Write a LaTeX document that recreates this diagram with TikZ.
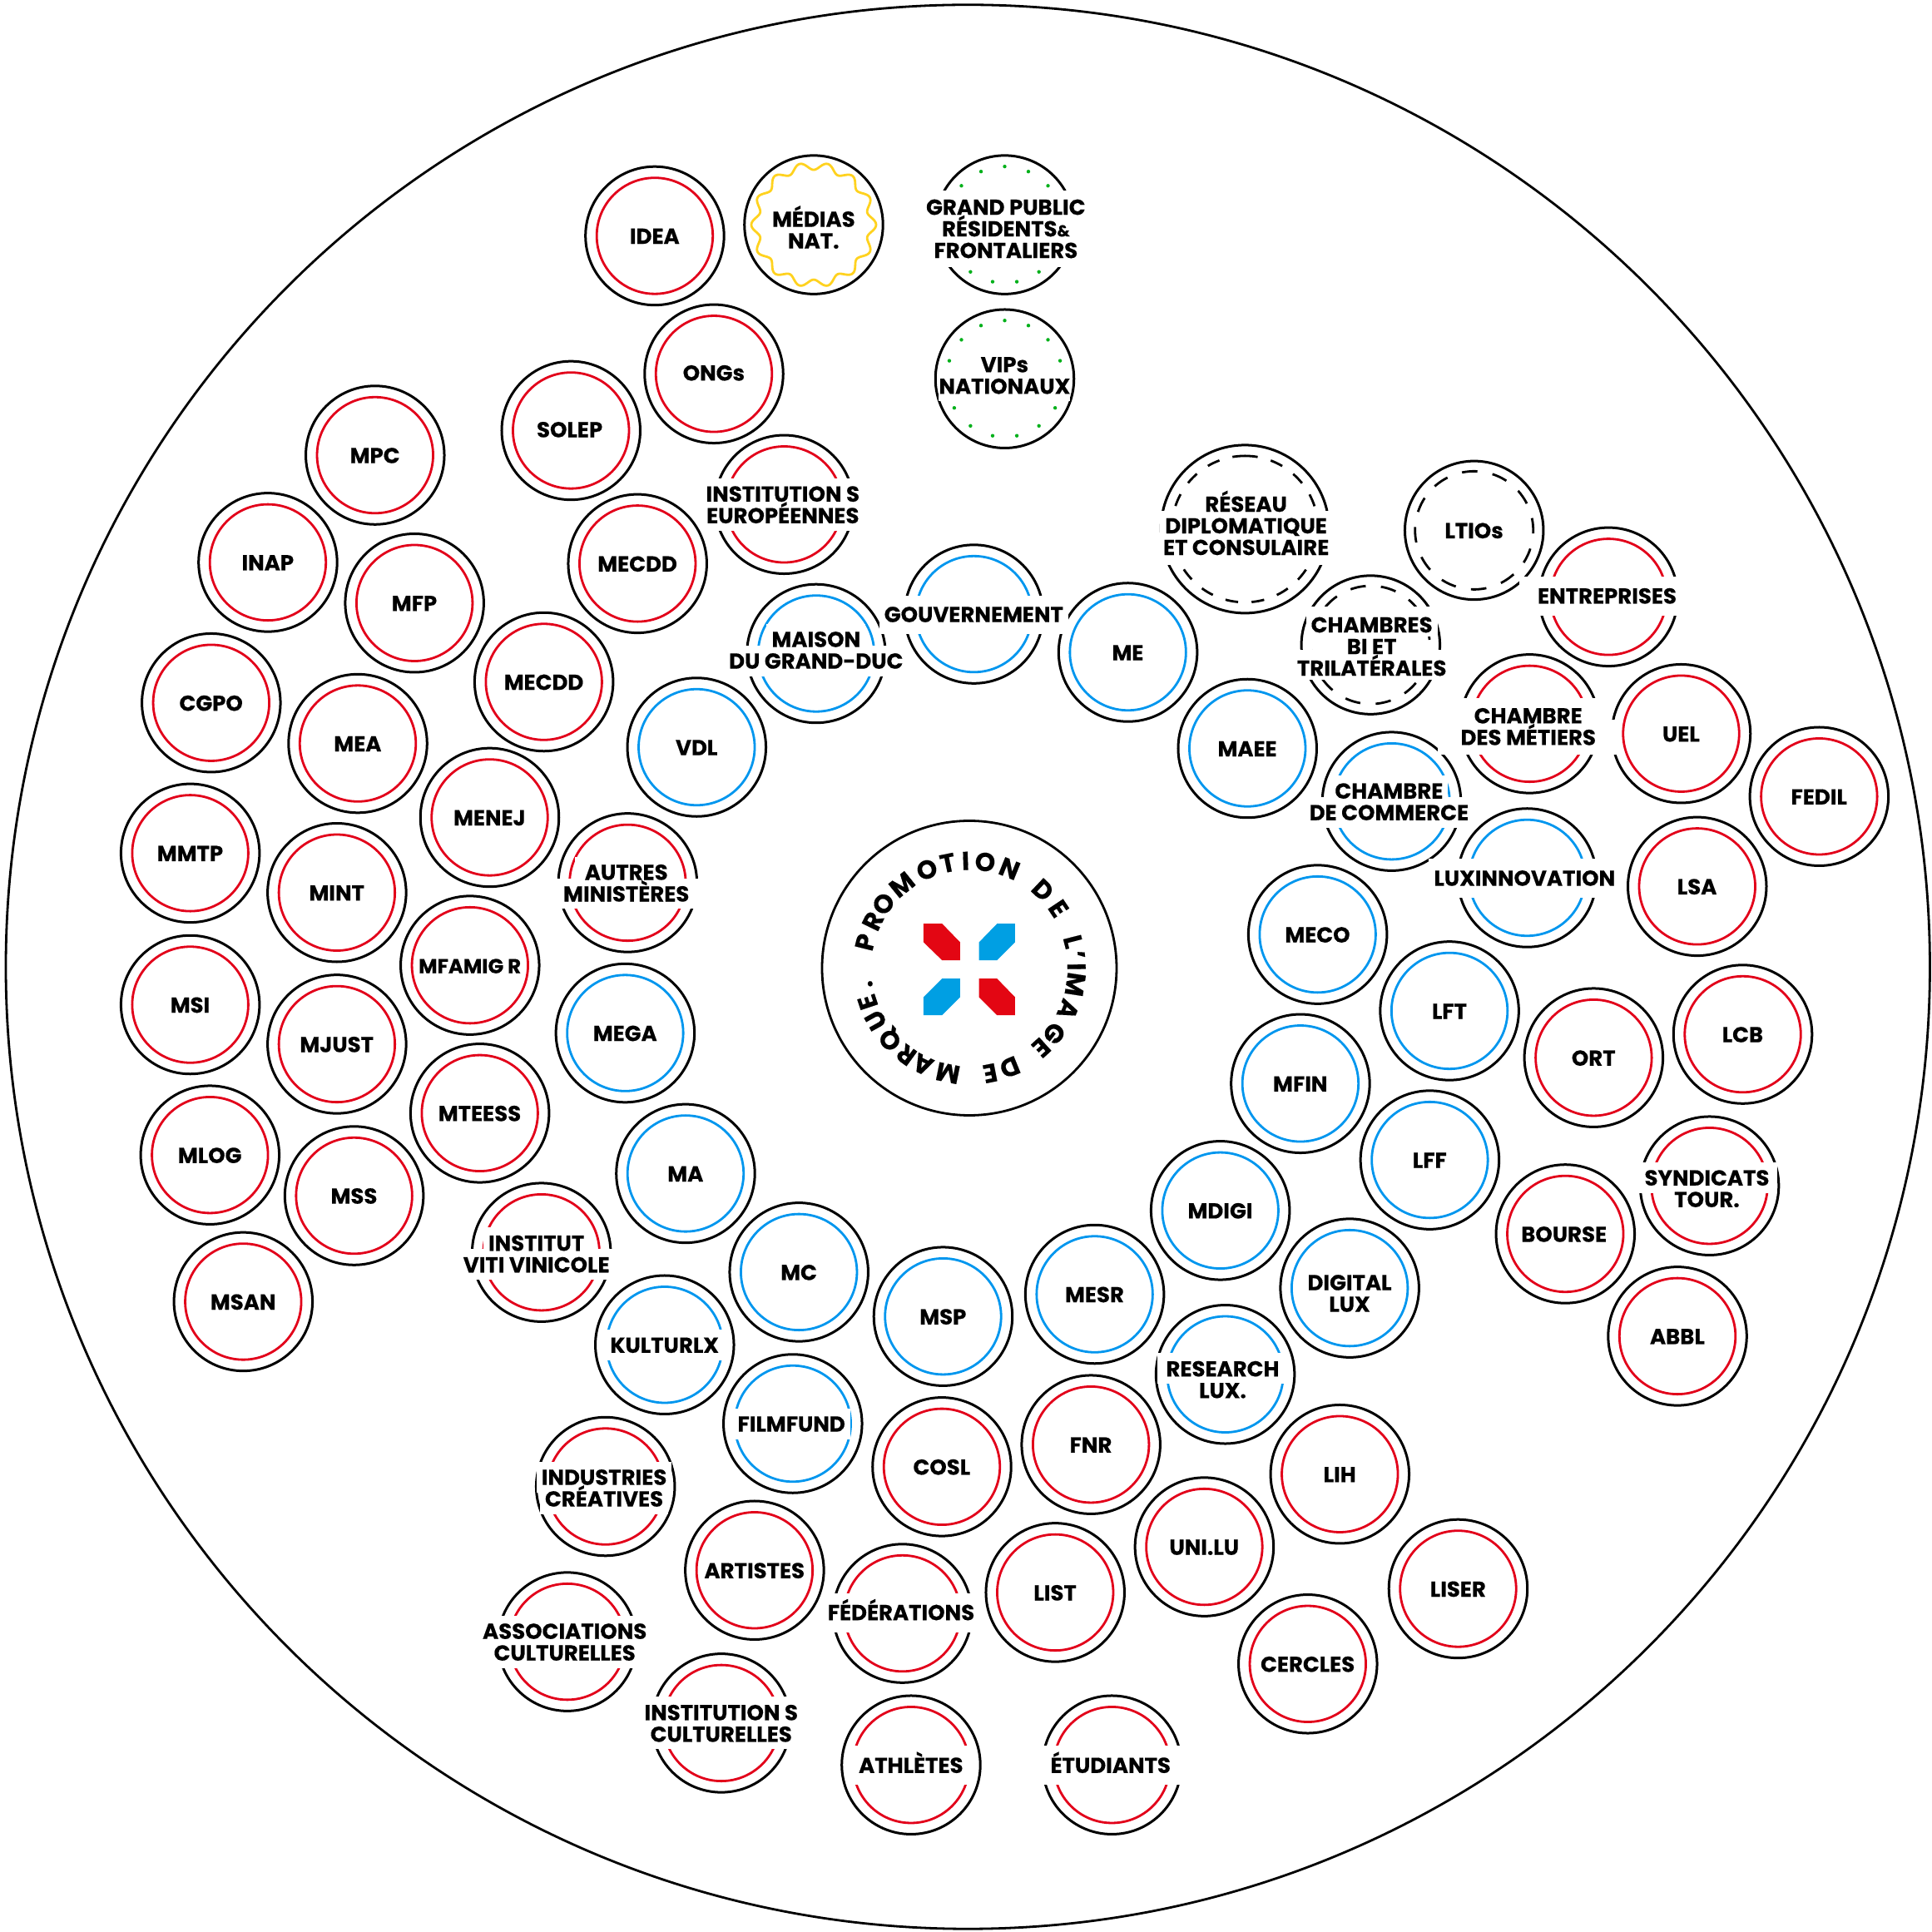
\documentclass[tikz,border=0pt]{standalone}
\usepackage{fontspec}
\setmainfont{Poppins}[BoldFont={Poppins Bold}]
\usetikzlibrary{calc}
\definecolor{lred}{HTML}{E2001A}
\definecolor{lblue}{HTML}{0096EE}
\definecolor{lyel}{HTML}{FFD21F}
\definecolor{lgreen}{HTML}{00B01A}
\definecolor{mred}{HTML}{E30613}
\definecolor{mblue}{HTML}{009FE3}
\pgfdeclarelayer{rings}\pgfdeclarelayer{masks}\pgfsetlayers{rings,masks,main}
\newcommand\lblfont{\fontsize{26}{26}\selectfont\bfseries\addfontfeature{FakeBold=0.4}}
\tikzset{
 outerring/.style={circle,draw=black,line width=3pt,minimum size=166.5pt,inner sep=0pt,outer sep=0pt},
 innerring/.style={circle,line width=2.8pt,minimum size=139.5pt,inner sep=0pt,outer sep=0pt},
 lbl/.style={inner sep=0pt,outer sep=0pt,text height=18pt,text depth=0pt,font=\lblfont},
 dashring/.style={line width=2.8pt,draw=black},
 arcletter/.style={inner sep=0pt,outer sep=0pt,text height=21pt,text depth=0pt,font=\fontsize{31}{31}\selectfont\bfseries\addfontfeature{FakeBold=0.4}},
}
\newcommand\ringred[1]{\node[innerring,draw=lred] (r#1) at (c#1.center) {};}
\newcommand\ringblue[1]{\node[innerring,draw=lblue] (r#1) at (c#1.center) {};}
\newcommand\ringyel[1]{\begin{scope}[shift={(c#1.center)},x=1pt,y=1pt]\draw[lyel,line width=2.8pt,line join=round] plot[domain=0:360,samples=281,variable=\t] ({(70.5-4.5*cos(14*\t))*sin(\t)},{(70.5-4.5*cos(14*\t))*cos(\t)}) -- cycle;\end{scope}}
\newcommand\ringgreen[1]{\foreach \a in {0,24,...,336}{\fill[lgreen] (c#1.center) ++(90-\a:70pt) circle (2.2pt);}}
\newcommand\ringdashA[1]{\draw[dashring,dash pattern=on 18.6pt off 18.6pt] (c#1.center) ++(72:71pt) arc[start angle=72,delta angle=-360,radius=71pt];}
\newcommand\ringdashB[1]{\draw[dashring,dash pattern=on 18.6pt off 18.6pt] (c#1.center) ++(80:71pt) arc[start angle=80,delta angle=-360,radius=71pt];}
% mask margins: side, above, below
\newcommand\mk[3]{\def\mx{#1}\def\mt{#2}\def\mb{#3}}
\mk{6}{10}{9}
% id, cx, cy, kind, tx, ty, lines
\newcommand\badge[7]{%
 \begin{pgfonlayer}{rings}
 \node[outerring] (c#1) at ($(#2,#3)+(0.4,0.4)$) {};
 \csname ring#4\endcsname{#1}
 \end{pgfonlayer}
 \tlines{#1}{#5}{#6}{#7}\mk{6}{10}{9}}
\newcommand\tlines[4]{%
 \foreach \ln [count=\k] in {#4} {\global\let\nlines\k}
 \foreach \ln [count=\i] in {#4} {
  \pgfmathsetmacro\dy{(\nlines+1)/2-\i}
  \node[lbl,yshift=\dy*26pt-1.2pt] (t#1-\i) at ($(#2,#3)+(0.3,0)$) {\ln};
  \begin{pgfonlayer}{masks}
  \fill[white] ([xshift=-\mx pt,yshift=-\mb pt]t#1-\i.south west) rectangle ([xshift=\mx pt,yshift=\mt pt]t#1-\i.north east);
  \end{pgfonlayer}
 }}
\begin{document}
\begin{tikzpicture}[x=1.4809pt,y=-1.4809pt]
\useasboundingbox (0,0) rectangle (1568,1568);
\node[circle,draw=black,line width=2.8pt,minimum size=2312.5pt,inner sep=0pt,outer sep=0pt] (big) at (1163.25pt,-1162pt) {};
% centre
\node[circle,draw=black,line width=2.8pt,minimum size=354pt,inner sep=0pt,outer sep=0pt] (centre) at (1165pt,-1163.5pt) {};
\foreach \a/\ch [count=\n] in {-76/P,-64/R,-53.2/O,-38.9/M,-23.3/O,-11.6/T,-2/I,8.5/O,22/N,43.3/D,56.3/E,75.7/L,83/’,89.3/I,98.8/M,112.8/A,127.6/G,137.9/E,157.8/D,168.8/E,191.5/M,205.7/A,216/R,227.8/Q,240.8/U,251.5/E,261/.}
 \node[arcletter,rotate=-\a] (arc\n) at ($(centre.center)+(90-\a:128.5pt)$) {\ch};
\begin{scope}[shift={(centre.center)},x=0.3333pt,y=-0.3333pt,shift={(-643,-640)}]
\fill[mred] (478,480)--(545,480)--(610,547)--(610,612)--(545,612)--(478,547)--cycle;
\fill[mblue] (743,480)--(808,480)--(808,547)--(743,612)--(678,612)--(678,547)--cycle;
\fill[mblue] (545,678)--(610,678)--(610,745)--(545,810)--(478,810)--(478,745)--cycle;
\fill[mred] (678,678)--(743,678)--(808,745)--(808,810)--(743,810)--(678,745)--cycle;
\end{scope}
% red
\badge{idea}{531}{191}{red}{531}{191}{IDEA}
\badge{ongs}{579}{303}{red}{579}{302}{ONGs}
\badge{solep}{463}{349}{red}{462}{348}{SOLEP}
\badge{insteu}{636}{409}{red}{635}{409}{INSTITUTION S,EUROPÉENNES}
\badge{mecdda}{517}{457}{red}{517}{457}{MECDD}
\badge{mecddb}{441}{553}{red}{441}{553}{MECDD}
\badge{mpc}{304}{369}{red}{304}{369}{MPC}
\badge{inap}{217}{456}{red}{217}{456}{INAP}
\badge{mfp}{336}{489}{red}{336}{489}{MFP}
\badge{cgpo}{171}{570}{red}{171}{570}{CGPO}
\badge{mea}{290}{603}{red}{290}{603}{MEA}
\badge{menej}{397}{663}{red}{397}{663}{MENEJ}
\badge{mmtp}{154}{692}{red}{154}{692}{MMTP}
\badge{mint}{273}{724}{red}{273}{724}{MINT}
\mk{12}{10}{8}\badge{autres}{509}{716}{red}{508}{716}{AUTRES,MINISTÈRES}
\mk{0}{0}{0}\badge{mfamigr}{381}{783}{red}{381}{783}{\fontsize{24.4}{26}\selectfont MFAMIG R}
\badge{msi}{154}{815}{red}{154}{815}{MSI}
\badge{mjust}{273}{847}{red}{273}{847}{MJUST}
\badge{mteess}{389}{903}{red}{389}{903}{MTEESS}
\badge{mlog}{170}{937}{red}{170}{937}{MLOG}
\badge{mss}{287}{970}{red}{287}{970}{MSS}
\badge{msan}{197}{1056}{red}{197}{1056}{MSAN}
\badge{viti}{439}{1016}{red}{435}{1017}{INSTITUT,VITI VINICOLE}
\badge{indus}{491}{1206}{red}{490}{1207}{INDUSTRIES,CRÉATIVES}
\mk{0}{0}{0}\badge{artistes}{612}{1274}{red}{612}{1274}{ARTISTES}
\badge{assoc}{460}{1332}{red}{458}{1332}{ASSOCIATIONS,CULTURELLES}
\badge{instcu}{585}{1398}{red}{585}{1398}{INSTITUTION S,CULTURELLES}
\mk{6}{14.5}{14.5}\badge{feder}{732}{1309}{red}{731}{1308}{FÉDÉRATIONS}
\badge{cosl}{764}{1190}{red}{764}{1190}{COSL}
\badge{fnr}{885}{1172}{red}{885}{1172}{FNR}
\badge{list}{856}{1292}{red}{856}{1292}{LIST}
\badge{unilu}{977}{1255}{red}{977}{1255}{UNI.LU}
\badge{lih}{1087}{1196}{red}{1087}{1196}{LIH}
\badge{liser}{1183}{1289}{red}{1183}{1289}{LISER}
\badge{cercles}{1061}{1350}{red}{1061}{1350}{CERCLES}
\mk{12}{14.5}{14.5}\badge{athletes}{739}{1432}{red}{739}{1432}{ATHLÈTES}
\mk{18}{14.5}{14.5}\badge{etud}{902}{1432}{red}{901}{1432}{ÉTUDIANTS}
\badge{uel}{1364}{595}{red}{1364}{595}{UEL}
\badge{fedil}{1476}{646}{red}{1476}{646}{FEDIL}
\badge{lsa}{1377}{719}{red}{1377}{719}{LSA}
\badge{lcb}{1414}{839}{red}{1414}{839}{LCB}
\badge{ort}{1293}{858}{red}{1293}{858}{ORT}
\mk{10}{10}{9}\badge{synd}{1387}{962}{red}{1385}{964}{SYNDICATS,TOUR.}
\badge{bourse}{1270}{1001}{red}{1269}{1001}{BOURSE}
\badge{abbl}{1361}{1084}{red}{1361}{1084}{ABBL}
% blue
\badge{maison}{662}{530}{blue}{662}{527}{MAISON,DU GRAND-DUC}
\mk{6}{14}{14}\badge{gouv}{790}{498}{blue}{790}{498}{GOUVERNEMENT}
\badge{me}{915}{529}{blue}{915}{529}{ME}
\badge{maee}{1012}{607}{blue}{1012}{607}{MAEE}
\badge{vdl}{565}{606}{blue}{565}{606}{VDL}
\badge{commerce}{1129}{650}{blue}{1127}{650}{CHAMBRE,DE COMMERCE}
\mk{6}{14.5}{14.5}\badge{luxinn}{1239}{712}{blue}{1237}{712}{LUXINNOVATION}
\badge{meco}{1069}{758}{blue}{1069}{758}{MECO}
\badge{lft}{1176}{820}{blue}{1176}{820}{LFT}
\badge{mfin}{1055}{879}{blue}{1055}{879}{MFIN}
\badge{lff}{1160}{941}{blue}{1160}{941}{LFF}
\badge{mega}{507}{838}{blue}{507}{838}{MEGA}
\badge{ma}{556}{952}{blue}{556}{952}{MA}
\badge{mdigi}{990}{982}{blue}{990}{982}{MDIGI}
\badge{mc}{648}{1032}{blue}{648}{1032}{MC}
\badge{kultur}{539}{1091}{blue}{539}{1091}{KULTURLX}
\badge{digital}{1095}{1045}{blue}{1095}{1049}{DIGITAL,LUX}
\badge{msp}{765}{1068}{blue}{765}{1068}{MSP}
\badge{mesr}{888}{1050}{blue}{888}{1050}{MESR}
\mk{10}{10}{9}\badge{research}{994}{1115}{blue}{992}{1119}{RESEARCH,LUX.}
\badge{film}{643}{1155}{blue}{642}{1155}{FILMFUND}
% others
\badge{medias}{660}{182}{yel}{660}{186}{MÉDIAS,NAT.}
\mk{22}{11}{11}\badge{grand}{815}{182}{green}{816}{185}{GRAND PUBLIC,RÉSIDENTS{\fontsize{19}{19}\selectfont\&},FRONTALIERS}
\mk{0}{9}{9}\badge{vips}{815}{307}{green}{815}{304}{VIPs,NATIONAUX}
\badge{ltios}{1196}{430}{dashA}{1196}{430}{LTIOs}
\mk{6}{13}{5}\badge{chbi}{1112}{523}{dashB}{1113}{524}{CHAMBRES,BI ET,TRILATÉRALES}
% badges whose wide masks also cut their neighbours
\mk{22}{14.5}{14.5}\badge{entre}{1305}{484}{red}{1304}{483}{ENTREPRISES}
\mk{28}{12.5}{12}\badge{metiers}{1241}{587}{red}{1240}{589}{CHAMBRE,DES MÉTIERS}
% reseau : larger badge
\begin{pgfonlayer}{rings}
\node[outerring,minimum size=202pt] (creseau) at (1010.4,429.4) {};
\draw[dashring,dash pattern=on 15.36pt off 16.28pt] (creseau.center) ++(90:88pt) arc[start angle=90,delta angle=-360,radius=88pt];
\end{pgfonlayer}
\mk{6}{9}{11.5}
\tlines{reseau}{1011}{426}{RÉSEAU,DIPLOMATIQUE,ET CONSULAIRE}
\end{tikzpicture}
\end{document}
